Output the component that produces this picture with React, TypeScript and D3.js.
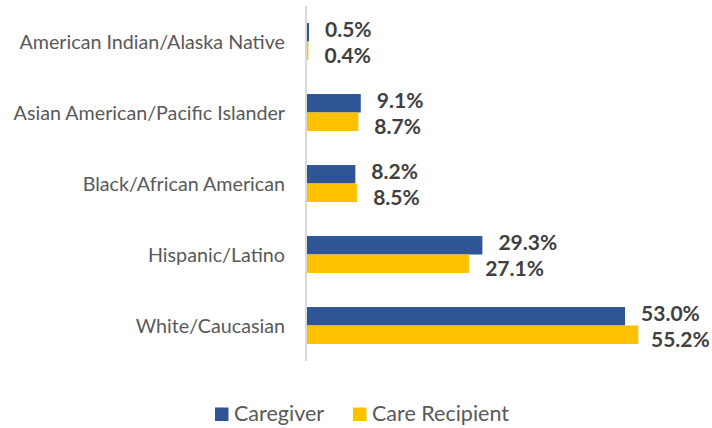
import React from "react";
import * as d3 from "d3";

const categories = [
  "American Indian/Alaska Native",
  "Asian American/Pacific Islander",
  "Black/African American",
  "Hispanic/Latino",
  "White/Caucasian",
];
const caregiver = [0.5, 9.1, 8.2, 29.3, 53.0];
const careRecipient = [0.4, 8.7, 8.5, 27.1, 55.2];
const seriesNames = ["Caregiver", "Care Recipient"];
const seriesColors = ["#2F5597", "#FFC000"];

const W = 712;
const H = 428;
const FONT = "Lato, 'Open Sans', sans-serif";

export default function App() {
  const x0 = 306;
  const x = d3.scaleLinear().domain([0, 10]).range([x0, x0 + 60.2]);
  const y = d3.scaleBand<string>().domain(categories).range([6, 361]).paddingInner(0.48).paddingOuter(0.24);
  const bw = y.bandwidth() / 2;
  const series = [caregiver, careRecipient];
  const labelShift = [-4, 3.5];

  return (
    <div style={{ position: "absolute", left: 0, top: 0 }}>
      <svg width={W} height={H} style={{ display: "block", background: "#fff" }}>
        {categories.map((c) => {
          const yc = (y(c) as number) + y.bandwidth() / 2;
          return (
            <text key={c} x={285} y={yc} textAnchor="end" dominantBaseline="central"
              fontFamily={FONT} fontSize={19.7} fill="#595959">{c}</text>
          );
        })}
        {series.map((vals, s) =>
          vals.map((v, i) => {
            const yb = (y(categories[i]) as number) + s * bw;
            return (
              <rect key={`${s}-${i}`} x={x0} y={yb} width={x(v) - x0} height={bw} fill={seriesColors[s]} />
            );
          })
        )}
        {series.map((vals, s) =>
          vals.map((v, i) => {
            const yb = (y(categories[i]) as number) + s * bw + bw / 2 + labelShift[s];
            const lab = v.toFixed(1) + "%";
            const estW = 58;
            let lx = x(v) + 16;
            if (lx + estW > 709) lx = 709 - estW;
            return (
              <text key={`l${s}-${i}`} x={lx} y={yb} dominantBaseline="central"
                fontFamily={FONT} fontWeight={700} fontSize={21} fill="#404040">{lab}</text>
            );
          })
        )}
        <line x1={x0} x2={x0} y1={6} y2={361} stroke="#D9D9D9" strokeWidth={2} />
        {seriesNames.map((n, s) => {
          const lx = s === 0 ? 215 : 353;
          return (
            <g key={n}>
              <rect x={lx} y={407.5} width={13.5} height={13.5} fill={seriesColors[s]} />
              <text x={lx + 19} y={421} fontFamily={FONT} fontSize={21.5} fill="#595959">{n}</text>
            </g>
          );
        })}
      </svg>
    </div>
  );
}
